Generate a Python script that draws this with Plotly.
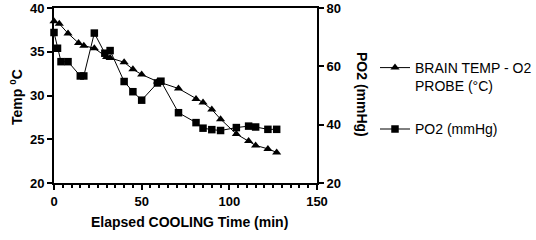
import plotly.graph_objects as go

# Data
temp_time = [0, 3, 8, 14, 17, 23, 30, 32, 40, 45, 50, 59, 71, 81, 85, 90, 95, 104, 111, 115, 122, 127]
temp_vals = [38.5, 38.2, 37.1, 36.0, 35.7, 35.4, 34.4, 34.3, 33.8, 33.0, 32.4, 31.6, 30.8, 29.6, 29.2, 28.4, 27.3, 25.6, 24.8, 24.3, 23.9, 23.5]

po2_time = [0, 2, 4, 8, 15, 17, 23, 29, 32, 40, 45, 50, 59, 61, 71, 81, 85, 90, 95, 104, 111, 115, 122, 127]
po2_vals = [71.6, 66.2, 61.6, 61.6, 56.7, 56.7, 71.4, 64.5, 65.4, 54.8, 51.3, 48.4, 54.3, 54.9, 44.1, 40.7, 38.8, 38.3, 38.0, 39.0, 39.5, 39.2, 38.4, 38.4]

x_ticks = [0, 50, 100, 150]
y_ticks = [20, 25, 30, 35, 40]
y2_ticks = [20, 40, 60, 80]

FONT = "Liberation Sans, Arial, sans-serif"
W, H = 552, 240  # slightly wider canvas so the legend's padding may run past the 536px view
L, T, B = 54, 8, 57
PW = 263
R = W - L - PW
PH = H - T - B

def px_x(p):
    return (p - L) / PW

def px_y(p):
    return 1 - (p - T) / PH

fig = go.Figure()
fig.add_trace(go.Scatter(
    x=temp_time, y=temp_vals, mode="lines+markers",
    name="BRAIN TEMP - O2<br>PROBE (°C)", legendgroup="a",
    line=dict(color="black", width=1),
    marker=dict(symbol="triangle-up", size=8, color="black"),
    cliponaxis=False, yaxis="y"))
fig.add_trace(go.Scatter(
    x=po2_time, y=po2_vals, mode="lines+markers",
    name="PO2 (mmHg)", legendgroup="b",
    line=dict(color="black", width=1),
    marker=dict(symbol="square", size=7.5, color="black"),
    cliponaxis=False, yaxis="y2"))

axis_common = dict(showgrid=False, zeroline=False, showline=True, linecolor="black",
                   linewidth=2, ticks="outside", ticklen=5, tickwidth=1.5, tickcolor="black",
                   automargin=False,
                   tickfont=dict(family=FONT, size=13, color="black", weight="bold"))

fig.update_layout(
    width=W, height=H,
    margin=dict(l=L, r=R, t=T, b=B, autoexpand=False),
    paper_bgcolor="white", plot_bgcolor="white",
    font=dict(family=FONT, color="black"),
    xaxis=dict(range=[0, 150], tickvals=x_ticks, mirror=True,
               minor=dict(dtick=5, ticks="outside", ticklen=3, tickwidth=1.5, tickcolor="black"),
               **axis_common),
    yaxis=dict(range=[20, 40], tickvals=y_ticks, **axis_common),
    yaxis2=dict(range=[20, 80], tickvals=y2_ticks, overlaying="y", side="right",
                **axis_common),
    showlegend=True,
    legend=dict(x=px_x(375), xanchor="left", y=px_y(52), yanchor="top",
                font=dict(family=FONT, size=14, color="black"),
                valign="top", tracegroupgap=22, bgcolor="rgba(0,0,0,0)"),
    annotations=[
        dict(text="PO2 (mmHg)", textangle=90, xref="paper", yref="paper",
             x=px_x(362), y=px_y(94), showarrow=False, xanchor="center", yanchor="middle",
             font=dict(family=FONT, size=14, color="black", weight="bold")),
        dict(text="Temp <sup>0</sup>C", textangle=-90, xref="paper", yref="paper",
             x=px_x(16), y=px_y(97), showarrow=False, xanchor="center", yanchor="middle",
             font=dict(family=FONT, size=14, color="black", weight="bold")),
        dict(text="Elapsed COOLING Time (min)", xref="paper", yref="paper",
             x=px_x(189), y=px_y(222), showarrow=False, xanchor="center", yanchor="middle",
             font=dict(family=FONT, size=14, color="black", weight="bold")),
    ],
)

fig.write_html("out.html", config={"displayModeBar": False},
               post_script="document.body.style.margin='0';document.body.style.overflow='hidden';")
